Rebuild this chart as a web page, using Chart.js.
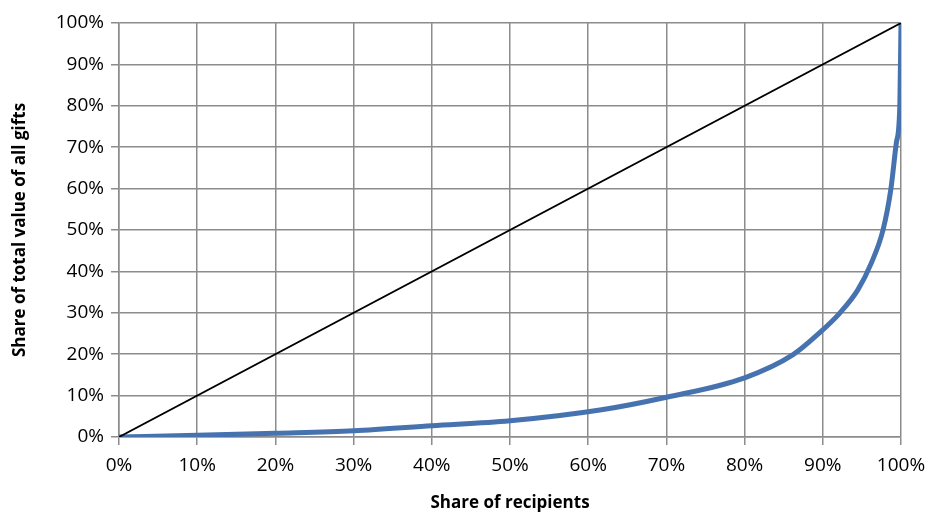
<!DOCTYPE html>
<html>
<head>
<meta charset="utf-8">
<script src="https://cdn.jsdelivr.net/npm/chart.js@4.4.1/dist/chart.umd.min.js"></script>
<style>
  html, body { margin: 0; padding: 0; background: #fff; }
  #wrap { width: 930px; height: 516px; }
</style>
</head>
<body>
<div id="wrap"><canvas id="grafica" width="930" height="516"></canvas></div>
<script>
// share of recipients (%) vs share of total value of all gifts (%)
const shareRecipients = [0, 10, 20, 30, 40, 50, 61.5, 70, 80, 86.2, 89.6, 92.2, 94.5, 96.2, 97.7, 98.7, 99.4, 99.85, 100];
const shareValue      = [0, 0.4, 0.9, 1.5, 2.7, 3.9, 6.5, 9.6, 14.3, 19.9, 25.2, 30, 35.6, 42, 50, 59.8, 71, 80, 100];
const equalityX = [0, 100];
const equalityY = [0, 100];
const tickValues = [0, 10, 20, 30, 40, 50, 60, 70, 80, 90, 100];

const gridColor = '#8c8c8c';
const fontFamily = "'Open Sans', 'Liberation Sans', sans-serif";

var grafica = document.getElementById('grafica');
var ctx = grafica.getContext('2d');

const data = {
    datasets: [{
        label: 'Lorenz',
        data: shareRecipients.map((x, i) => ({ x: x, y: shareValue[i] })),
        borderColor: '#4673b0',
        borderWidth: 5,
        pointRadius: 0,
        showLine: true,
        cubicInterpolationMode: 'monotone',
        fill: false,
        order: 2,
    }, {
        label: 'Equality',
        data: equalityX.map((x, i) => ({ x: x, y: equalityY[i] })),
        borderColor: '#000000',
        borderWidth: 1.8,
        pointRadius: 0,
        showLine: true,
        fill: false,
        order: 1,
    }],
};

const config = {
    type: 'scatter',
    data: data,
    options: {
        responsive: false,
        animation: false,
        layout: { padding: { top: 23, right: 0, bottom: 3, left: 10 } },
        plugins: { legend: { display: false }, tooltip: { enabled: false } },
        scales: {
            x: {
                type: 'linear',
                min: 0,
                max: 100,
                afterBuildTicks: s => { s.ticks = tickValues.map(v => ({ value: v })); },
                afterFit: s => { s.height = 76; s.paddingRight = 29; },
                grid: { color: gridColor, lineWidth: 1.5, tickLength: 8, tickColor: gridColor },
                border: { color: gridColor, width: 1.5 },
                ticks: {
                    color: '#000',
                    font: { family: fontFamily, size: 19 },
                    padding: 9,
                    maxRotation: 0,
                    callback: v => v + '%',
                },
                title: {
                    display: true,
                    text: 'Share of recipients',
                    color: '#000',
                    font: { family: fontFamily, size: 17, weight: 'bold' },
                    padding: { top: 9, bottom: 0 },
                },
            },
            y: {
                type: 'linear',
                min: 0,
                max: 100,
                afterBuildTicks: s => { s.ticks = tickValues.map(v => ({ value: v })); },
                afterFit: s => { s.width = 109; },
                grid: { color: gridColor, lineWidth: 1.5, tickLength: 8, tickColor: gridColor },
                border: { color: gridColor, width: 1.5 },
                ticks: {
                    color: '#000',
                    font: { family: fontFamily, size: 19 },
                    padding: 7,
                    callback: v => v + '%',
                },
                title: {
                    display: true,
                    text: 'Share of total value of all gifts',
                    color: '#000',
                    font: { family: fontFamily, size: 17, weight: 'bold' },
                    padding: { top: 0, bottom: 4 },
                },
            },
        },
    },
};

let miGrafica = new Chart(ctx, config);
</script>
</body>
</html>
